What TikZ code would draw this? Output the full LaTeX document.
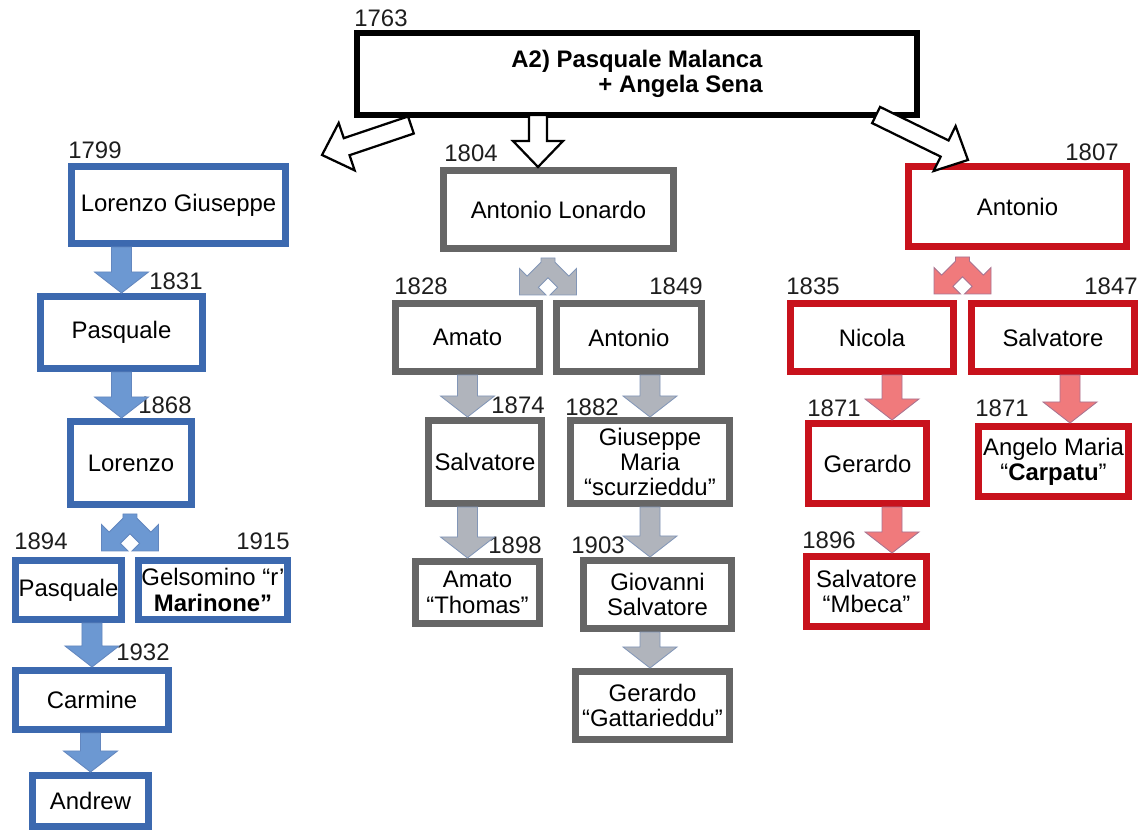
\documentclass[tikz,border=0pt]{standalone}
\usepackage{fontspec}
\setmainfont{Liberation Sans}
\usetikzlibrary{calc}
\definecolor{boxblue}{RGB}{60,105,175}
\definecolor{boxgray}{RGB}{102,102,102}
\definecolor{boxred}{RGB}{200,18,28}
\definecolor{arrblue}{RGB}{108,152,210}
\definecolor{arrgray}{RGB}{176,180,188}
\definecolor{arrred}{RGB}{240,122,124}
\definecolor{yrtext}{RGB}{30,30,30}
\newcommand{\boxfont}{\fontsize{17}{18}\selectfont}
\tikzset{
  box/.style={draw,fill=white,line width=0.175cm,inner sep=1pt,align=center,font=\boxfont},
  bbox/.style={box,draw=boxblue},
  gbox/.style={box,draw=boxgray},
  rbox/.style={box,draw=boxred},
  yrs/.style={font=\boxfont,text=yrtext,inner sep=0pt},
  blk/.style n args={3}{to path={let \p1=($(\tikztotarget)!#3!(\tikztostart)$) in
      -- ($(\tikztostart)!#1!90:(\tikztotarget)$) -- ($(\p1)!#1!90:(\tikztotarget)$)
      -- ($(\p1)!#2!90:(\tikztotarget)$) -- (\tikztotarget)
      -- ($(\p1)!#2!-90:(\tikztotarget)$) -- ($(\p1)!#1!-90:(\tikztotarget)$)
      -- ($(\tikztostart)!#1!-90:(\tikztotarget)$) -- cycle}},
  bfill/.style={fill=arrblue,draw=boxblue!80,line width=0.6pt},
  gfill/.style={fill=arrgray,draw=arrgray!60!boxblue,line width=0.6pt},
  rfill/.style={fill=arrred,draw=arrred!60!boxblue,line width=0.6pt},
  barr/.style={bfill,blk={0.25cm}{0.675cm}{0.525cm}},
  garr/.style={gfill,blk={0.25cm}{0.675cm}{0.525cm}},
  rarr/.style={rfill,blk={0.25cm}{0.675cm}{0.525cm}},
  harr/.style={fill=white,draw=black,line width=1.6pt,blk={0.225cm}{0.625cm}{0.65cm}},
  fork/.pic={
    \path[pic actions] (-7,0) -- (7,0) -- (7,4.2) -- (20.9,18.1) -- (28.5,10.5)
      -- (28.5,37) -- (2,37) -- (9.6,29.4) -- (0,19.8) -- (-9.6,29.4) -- (-2,37)
      -- (-28.5,37) -- (-28.5,10.5) -- (-20.9,18.1) -- (-7,4.2) -- cycle;
  },
}

\begin{document}
\begin{tikzpicture}[x=0.025cm,y=-0.025cm]
  \useasboundingbox (0,0) rectangle (1148,834);
  % parents
  \node[box,draw=black,line width=0.15cm,minimum width=14cm,minimum height=2.05cm,
        align=right,font=\boxfont\bfseries] (top) at (637,74) {A2) Pasquale Malanca\\+ Angela Sena};
  % blue line
  \node[bbox,minimum width=5.35cm,minimum height=1.925cm] (lg) at (178.5,205) {Lorenzo Giuseppe};
  \node[bbox,minimum width=4.05cm,minimum height=1.8cm] (pq1) at (121.5,332.5) {Pasquale};
  \node[bbox,minimum width=3.025cm,minimum height=2.075cm] (lz) at (131,463) {Lorenzo};
  \node[bbox,minimum width=2.65cm,minimum height=1.475cm] (pq2) at (68.5,590) {Pasquale};
  \node[bbox,minimum width=3.725cm,minimum height=1.475cm] (gm) at (213,590) {Gelsomino “r’\\\textbf{Marinone”}};
  \node[bbox,minimum width=3.825cm,minimum height=1.475cm] (cm) at (92,700) {Carmine};
  \node[bbox,minimum width=2.9cm,minimum height=1.275cm] (adw) at (90.5,801) {Andrew};
  % gray line
  \node[gbox,minimum width=5.75cm,minimum height=1.95cm] (al) at (558.5,209.5) {Antonio Lonardo};
  \node[gbox,minimum width=3.6cm,minimum height=1.7cm] (am) at (467.5,337.5) {Amato};
  \node[gbox,minimum width=3.625cm,minimum height=1.7cm] (ao) at (629,337.5) {Antonio};
  \node[gbox,minimum width=2.825cm,minimum height=2.075cm] (sv) at (485,462) {Salvatore};
  \node[gbox,minimum width=3.975cm,minimum height=2.075cm] (gp) at (650,462) {Giuseppe\\Maria\\“scurzieddu”};
  \node[gbox,minimum width=3.1cm,minimum height=1.55cm] (amt) at (477.5,592.5) {Amato\\“Thomas”};
  \node[gbox,minimum width=3.7cm,minimum height=1.7cm] (gs) at (657.5,594.5) {Giovanni\\Salvatore};
  \node[gbox,minimum width=3.85cm,minimum height=1.7cm] (gg) at (652.5,705.5) {Gerardo\\“Gattarieddu”};
  % red line
  \node[rbox,minimum width=5.45cm,minimum height=2cm] (ar) at (1017.5,206.5) {Antonio};
  \node[rbox,minimum width=4.075cm,minimum height=1.7cm] (nc) at (872,337.5) {Nicola};
  \node[rbox,minimum width=4.075cm,minimum height=1.7cm] (sr) at (1053,337.5) {Salvatore};
  \node[rbox,minimum width=2.95cm,minimum height=2cm] (gd) at (867.5,463.5) {Gerardo};
  \node[rbox,minimum width=3.75cm,minimum height=1.75cm] (ang) at (1053.5,461.5) {Angelo Maria\\“\textbf{Carpatu}”};
  \node[rbox,minimum width=3cm,minimum height=1.75cm] (sm) at (866.5,591.5) {Salvatore\\“Mbeca”};
  % years
  \foreach \lab/\x/\y [count=\i] in {1763/381/18.5,1799/95/150,1831/176/281,1868/165/405,
      1894/41/541,1915/263/541,1932/143/652,1804/471/153,1828/421/286,1849/676/286,
      1874/518/405,1882/592/407,1898/515/545,1903/598/545,1807/1092/152,1835/813/286,
      1847/1111/286,1871/834/408,1871/1002/408,1896/829/540}
    \node[yrs] (yr\i) at (\x,\y) {\lab};
  % arrows from the couple
  \coordinate (tl) at ($(top.south west)+(57,7)$);
  \coordinate (tlt) at ($(lg.north east)+(33,-8)$);
  \coordinate (tm) at ($(top.south)+(-99,-3)$);
  \coordinate (tr) at ($(top.south east)+(-44,-3)$);
  \coordinate (trt) at ($(ar.north west)+(63,-3)$);
  \draw[harr] (tl) to (tlt);
  \draw[harr] (tm) to (tm |- al.north);
  \draw[harr] (tr) to (trt);
  % blue arrows
  \draw[barr] (pq1.north |- lg.south) to (pq1.north);
  \draw[barr] (pq1.south) to (pq1.south |- lz.north);
  \pic[bfill] at ($(pq2.north east)!.5!(gm.north west)+(0,-43)$) {fork};
  \draw[barr] (cm.north |- pq2.south) to (cm.north);
  \draw[barr] (adw.north |- cm.south) to (adw.north);
  % gray arrows
  \pic[gfill] at ($(am.north east)!.5!(ao.north west)+(0,-42)$) {fork};
  \draw[garr] (am.south) to (am.south |- sv.north);
  \draw[garr] (gp.north |- ao.south) to (gp.north);
  \draw[garr] (am.south |- sv.south) to (am.south |- amt.north);
  \draw[garr] (gp.south) to (gp.south |- gs.north);
  \draw[garr] (gp.south |- gs.south) to (gp.south |- gg.north);
  % red arrows
  \pic[rfill] at ($(nc.north east)!.5!(sr.north west)+(0,-43)$) {fork};
  \coordinate (r1) at ($(nc.south)+(20,0)$);
  \coordinate (r2) at ($(sr.south)+(17,0)$);
  \draw[rarr] (r1) to (r1 |- gd.north);
  \draw[rarr] (r2) to (r2 |- ang.north);
  \draw[rarr] (r1 |- gd.south) to (r1 |- sm.north);
\end{tikzpicture}
\end{document}
